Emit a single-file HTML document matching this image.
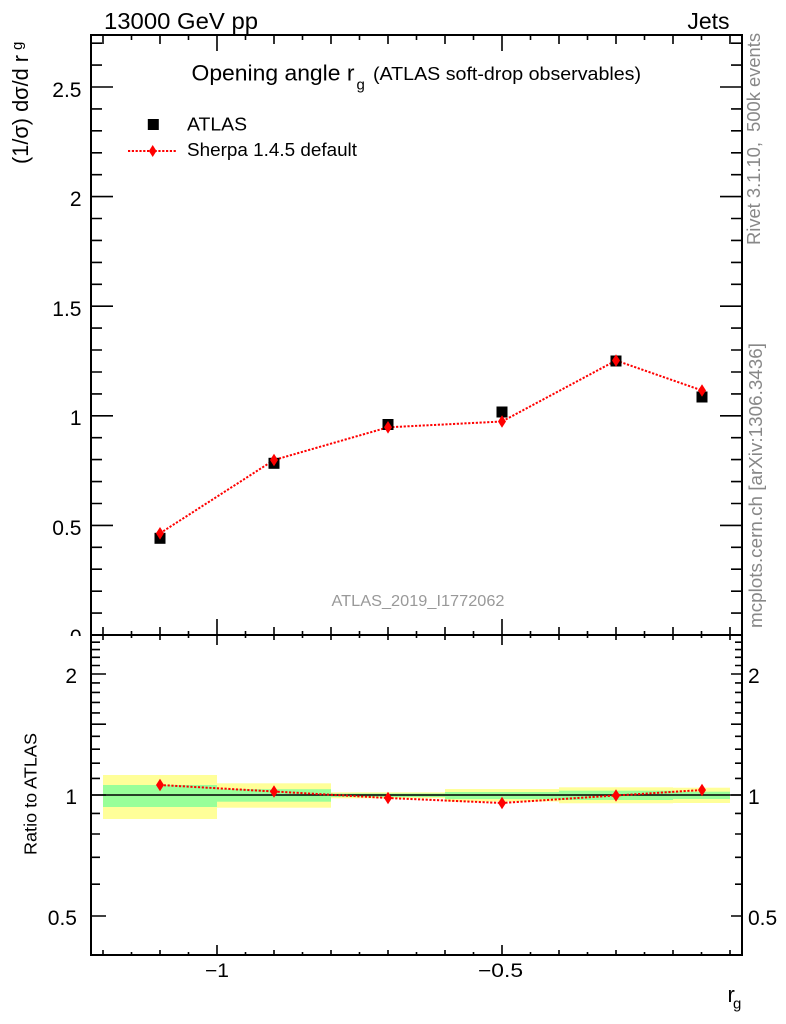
<!DOCTYPE html>
<html>
<head>
<meta charset="utf-8">
<style>
html,body{margin:0;padding:0;background:#fff;}
svg{display:block;}
text{font-family:"Liberation Sans",Arial,sans-serif;}
</style>
</head>
<body>
<svg width="786" height="1024" viewBox="0 0 786 1024" xmlns="http://www.w3.org/2000/svg">
<defs>
<clipPath id="mainclip"><rect x="0" y="0" width="786" height="636"/></clipPath>
</defs>
<rect x="0" y="0" width="786" height="1024" fill="#fff"/>

<!-- header texts -->
<text x="104" y="29" font-size="23" textLength="154" lengthAdjust="spacingAndGlyphs">13000 GeV pp</text>
<text x="729.5" y="29" font-size="23" text-anchor="end">Jets</text>

<!-- title -->
<text x="191.5" y="80.5" font-size="22" textLength="163" lengthAdjust="spacingAndGlyphs">Opening angle r</text>
<text x="356.5" y="89.5" font-size="15">g</text>
<text x="373" y="80" font-size="18.5" textLength="268" lengthAdjust="spacingAndGlyphs">(ATLAS soft-drop observables)</text>

<!-- legend -->
<rect x="147.8" y="119" width="11" height="11" fill="#000"/>
<text x="187" y="130.5" font-size="18" textLength="60" lengthAdjust="spacingAndGlyphs">ATLAS</text>
<line x1="128" y1="151" x2="177" y2="151" stroke="#ff0000" stroke-width="2" stroke-dasharray="2.2 1.6"/>
<polygon points="152.7,145 156.5,151 152.7,157 148.9,151" fill="#ff0000"/>
<text x="187" y="156" font-size="18" textLength="170" lengthAdjust="spacingAndGlyphs">Sherpa 1.4.5 default</text>

<!-- analysis id -->
<text x="331.5" y="606" font-size="16" fill="#999" textLength="173" lengthAdjust="spacingAndGlyphs">ATLAS_2019_I1772062</text>

<!-- main data -->
<polyline points="160,533.3 274,460 388,427.3 502,421.5 616,360.5 702,390.5" fill="none" stroke="#ff0000" stroke-width="2" stroke-dasharray="2.2 1.6"/>
<g fill="#000">
<rect x="154.5" y="532.8" width="11" height="11"/>
<rect x="268.5" y="457.8" width="11" height="11"/>
<rect x="382.5" y="419" width="11" height="11"/>
<rect x="496.5" y="406.5" width="11" height="11"/>
<rect x="610.5" y="355.5" width="11" height="11"/>
<rect x="696.5" y="391.5" width="11" height="11"/>
</g>
<g fill="#ff0000">
<polygon points="160,527 164,533.3 160,539.6 156,533.3"/>
<polygon points="274,453.7 278,460 274,466.3 270,460"/>
<polygon points="388,421 392,427.3 388,433.6 384,427.3"/>
<polygon points="502,415.2 506,421.5 502,427.8 498,421.5"/>
<polygon points="616,354.2 620,360.5 616,366.8 612,360.5"/>
<polygon points="702,384.2 706,390.5 702,396.8 698,390.5"/>
</g>

<!-- ratio bands -->
<g fill="#ffff99">
<rect x="103" y="775" width="114" height="44"/>
<rect x="217" y="783.3" width="114" height="24.4"/>
<rect x="331" y="792.3" width="114" height="6"/>
<rect x="445" y="789" width="114" height="12.5"/>
<rect x="559" y="787.3" width="114" height="16"/>
<rect x="673" y="787.7" width="57" height="15.3"/>
</g>
<g fill="#99ff99">
<rect x="103" y="785" width="114" height="22"/>
<rect x="217" y="789.2" width="114" height="12.5"/>
<rect x="331" y="793.5" width="114" height="3.5"/>
<rect x="445" y="792" width="114" height="7"/>
<rect x="559" y="790.7" width="114" height="9.3"/>
<rect x="673" y="791.7" width="57" height="7.3"/>
</g>
<line x1="91" y1="795" x2="742" y2="795" stroke="#000" stroke-width="1.6"/>
<polyline points="160,785 274,791.5 388,798 502,803 616,795.5 702,790" fill="none" stroke="#ff0000" stroke-width="2" stroke-dasharray="2.2 1.6"/>
<g fill="#ff0000">
<polygon points="160,778.7 164,785 160,791.3 156,785"/>
<polygon points="274,785.2 278,791.5 274,797.8 270,791.5"/>
<polygon points="388,791.7 392,798 388,804.3 384,798"/>
<polygon points="502,796.7 506,803 502,809.3 498,803"/>
<polygon points="616,789.2 620,795.5 616,801.8 612,795.5"/>
<polygon points="702,783.7 706,790 702,796.3 698,790"/>
</g>

<!-- frames -->
<rect x="91" y="35" width="651" height="600" fill="none" stroke="#000" stroke-width="2"/>
<rect x="91" y="635" width="651" height="320" fill="none" stroke="#000" stroke-width="2"/>

<!-- main y ticks -->
<path stroke="#000" stroke-width="1.6" fill="none" d="
M91 613.1h11 M91 591.2h11 M91 569.2h11 M91 547.3h11 M91 525.4h22
M91 503.5h11 M91 481.6h11 M91 459.6h11 M91 437.7h11 M91 415.8h22
M91 393.9h11 M91 372h11 M91 350h11 M91 328.1h11 M91 306.2h22
M91 284.3h11 M91 262.4h11 M91 240.4h11 M91 218.5h11 M91 196.6h22
M91 174.7h11 M91 152.8h11 M91 130.8h11 M91 108.9h11 M91 87h22
M91 65.1h11 M91 43.2h11
M742 613.1h-11 M742 591.2h-11 M742 569.2h-11 M742 547.3h-11 M742 525.4h-22
M742 503.5h-11 M742 481.6h-11 M742 459.6h-11 M742 437.7h-11 M742 415.8h-22
M742 393.9h-11 M742 372h-11 M742 350h-11 M742 328.1h-11 M742 306.2h-22
M742 284.3h-11 M742 262.4h-11 M742 240.4h-11 M742 218.5h-11 M742 196.6h-22
M742 174.7h-11 M742 152.8h-11 M742 130.8h-11 M742 108.9h-11 M742 87h-22
M742 65.1h-11 M742 43.2h-11"/>

<!-- main x ticks top -->
<path stroke="#000" stroke-width="1.6" fill="none" d="
M103 35v9 M131.5 35v5 M160 35v9 M188.5 35v5 M217 35v16 M245.5 35v5 M274 35v9 M302.5 35v5
M331 35v9 M359.5 35v5 M388 35v9 M416.5 35v5 M445 35v9 M473.5 35v5 M502 35v16 M530.5 35v5
M559 35v9 M587.5 35v5 M616 35v9 M644.5 35v5 M673 35v9 M701.5 35v5 M730 35v9"/>
<!-- main x ticks bottom -->
<path stroke="#000" stroke-width="1.6" fill="none" d="
M103 635v-8 M131.5 635v-4 M160 635v-8 M188.5 635v-4 M217 635v-16 M245.5 635v-4 M274 635v-8 M302.5 635v-4
M331 635v-8 M359.5 635v-4 M388 635v-8 M416.5 635v-4 M445 635v-8 M473.5 635v-4 M502 635v-16 M530.5 635v-4
M559 635v-8 M587.5 635v-4 M616 635v-8 M644.5 635v-4 M673 635v-8 M701.5 635v-4 M730 635v-8"/>
<!-- ratio x ticks top -->
<path stroke="#000" stroke-width="1.6" fill="none" d="
M103 635v5 M131.5 635v3 M160 635v5 M188.5 635v3 M217 635v10 M245.5 635v3 M274 635v5 M302.5 635v3
M331 635v5 M359.5 635v3 M388 635v5 M416.5 635v3 M445 635v5 M473.5 635v3 M502 635v10 M530.5 635v3
M559 635v5 M587.5 635v3 M616 635v5 M644.5 635v3 M673 635v5 M701.5 635v3 M730 635v5"/>
<!-- ratio x ticks bottom -->
<path stroke="#000" stroke-width="1.6" fill="none" d="
M103 955v-5 M131.5 955v-3 M160 955v-5 M188.5 955v-3 M217 955v-10 M245.5 955v-3 M274 955v-5 M302.5 955v-3
M331 955v-5 M359.5 955v-3 M388 955v-5 M416.5 955v-3 M445 955v-5 M473.5 955v-3 M502 955v-10 M530.5 955v-3
M559 955v-5 M587.5 955v-3 M616 955v-5 M644.5 955v-3 M673 955v-5 M701.5 955v-3 M730 955v-5"/>

<!-- ratio y ticks -->
<path stroke="#000" stroke-width="1.6" fill="none" d="
M91 916h15 M91 884.2h9 M91 857.3h9 M91 834h9 M91 813.4h9 M91 795h15
M91 778.4h9 M91 763.2h9 M91 749.2h9 M91 736.3h9 M91 724.2h15
M91 712.9h9 M91 702.4h9 M91 692.4h9 M91 682.9h9 M91 674h15
M91 665.5h9 M91 657.3h9 M91 649.6h9 M91 642.2h9
M742 916h-11 M742 884.2h-7 M742 857.3h-7 M742 834h-7 M742 813.4h-7 M742 795h-11
M742 778.4h-7 M742 763.2h-7 M742 749.2h-7 M742 736.3h-7 M742 724.2h-11
M742 712.9h-7 M742 702.4h-7 M742 692.4h-7 M742 682.9h-7 M742 674h-11
M742 665.5h-7 M742 657.3h-7 M742 649.6h-7 M742 642.2h-7"/>

<!-- main y labels -->
<g font-size="21" text-anchor="end" clip-path="url(#mainclip)">
<text x="81.5" y="644">0</text>
<text x="81.5" y="535">0.5</text>
<text x="81.5" y="425">1</text>
<text x="81.5" y="316">1.5</text>
<text x="81.5" y="206">2</text>
<text x="81.5" y="97">2.5</text>
</g>

<!-- ratio y labels -->
<g font-size="21" text-anchor="end">
<text x="77" y="683">2</text>
<text x="77" y="804">1</text>
<text x="77" y="925">0.5</text>
</g>
<g font-size="21">
<text x="748" y="683">2</text>
<text x="748" y="804">1</text>
<text x="748" y="925">0.5</text>
</g>

<!-- x labels -->
<text x="205" y="977" font-size="19" textLength="24" lengthAdjust="spacingAndGlyphs">−1</text>
<text x="478" y="977" font-size="19" textLength="45" lengthAdjust="spacingAndGlyphs">−0.5</text>
<text x="727.5" y="1002" font-size="22">r</text>
<text x="733" y="1008.5" font-size="15">g</text>

<!-- y axis titles -->
<text transform="translate(28,164) rotate(-90)" font-size="22" textLength="109" lengthAdjust="spacingAndGlyphs">(1/σ) dσ/d r</text>
<text transform="translate(22,50) rotate(-90)" font-size="15">g</text>
<text transform="translate(36.5,855) rotate(-90)" font-size="17.5" textLength="122" lengthAdjust="spacingAndGlyphs">Ratio to ATLAS</text>

<!-- right side texts -->
<text transform="translate(760,245) rotate(-90)" font-size="18" fill="#888" textLength="212" lengthAdjust="spacingAndGlyphs">Rivet 3.1.10, &#160;500k events</text>
<text transform="translate(762,628) rotate(-90)" font-size="18" fill="#888" textLength="285" lengthAdjust="spacingAndGlyphs">mcplots.cern.ch [arXiv:1306.3436]</text>
</svg>
</body>
</html>
